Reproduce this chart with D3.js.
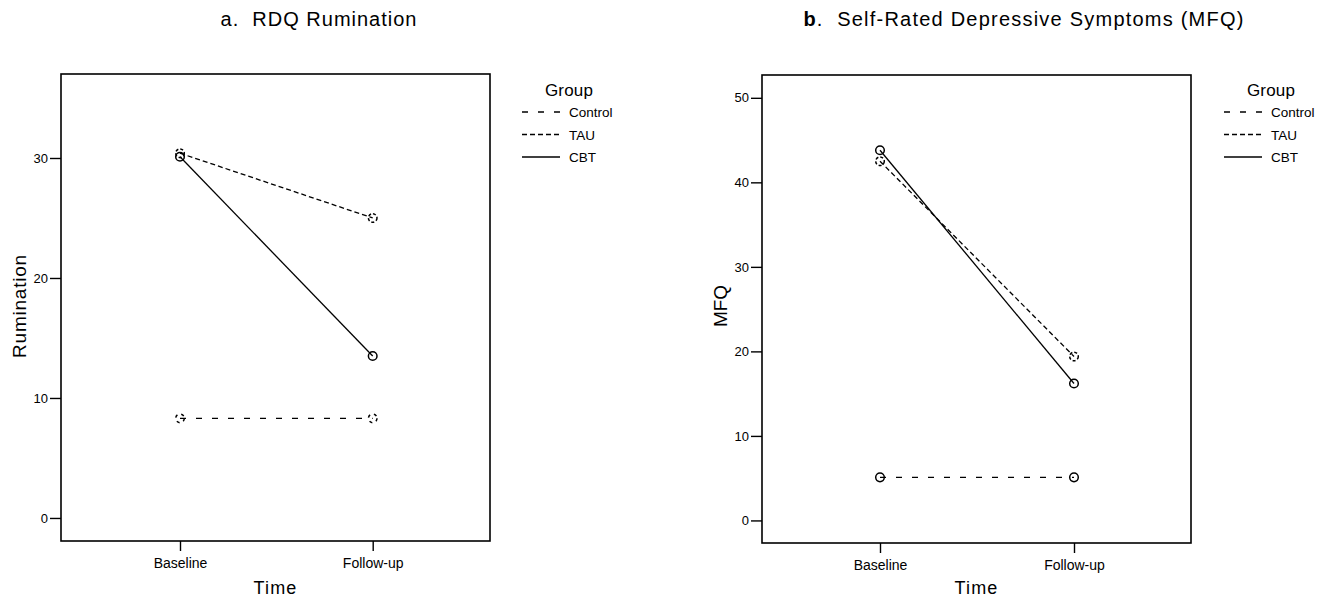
<!DOCTYPE html>
<html>
<head>
<meta charset="utf-8">
<script src="https://cdn.jsdelivr.net/npm/d3@7"></script>
<style>
  body { margin: 0; background: #fff; }
  text { font-family: "Liberation Sans", Arial, Helvetica, sans-serif; fill: #000; }
</style>
</head>
<body>
<div id="chart"></div>
<script>
// data
const times = ["Baseline", "Follow-up"];
const groups = ["Control", "TAU", "CBT"];
const rumination = {
  Control: [8.3, 8.3],
  TAU: [30.4, 25.0],
  CBT: [30.1, 13.5]
};
const mfq = {
  Control: [5.1, 5.1],
  TAU: [42.5, 19.4],
  CBT: [43.8, 16.2]
};
const ruminationTicks = [0, 10, 20, 30];
const mfqTicks = [0, 10, 20, 30, 40, 50];

const width = 1325, height = 598;
const dashes = { Control: "6,10", TAU: "5,3", CBT: null };

const svg = d3.select("#chart").append("svg")
  .attr("width", width)
  .attr("height", height);

// stretch a text to a given width with letter spacing (reference font is wider)
function fitWidth(sel, target) {
  let node = sel.node();
  let len = node.getComputedTextLength();
  let n = node.textContent.length;
  if (n > 1) sel.style("letter-spacing", ((target - len) / (n - 1)) + "px");
}

function panel(opt) {
  let g = svg.append("g");
  let x = d3.scalePoint().domain(times).range([opt.bx, opt.fx]).padding(0);
  let y = d3.scaleLinear().domain(opt.domain).range([opt.bottom, opt.top]);

  // frame
  g.append("rect")
    .attr("x", opt.left).attr("y", opt.top)
    .attr("width", opt.right - opt.left).attr("height", opt.bottom - opt.top)
    .attr("fill", "none").attr("stroke", "#000").attr("stroke-width", 1.6);

  // y axis
  let yAxis = d3.axisLeft(y).tickValues(opt.ticks).tickSize(11).tickPadding(2).tickFormat(d3.format("d"));
  let ya = g.append("g").attr("transform", "translate(" + opt.left + ",0)").call(yAxis);
  ya.select(".domain").remove();
  ya.selectAll("line").attr("stroke-width", 1.4);
  ya.selectAll("text").style("font-size", "13px");

  // x axis
  let xAxis = d3.axisBottom(x).tickSize(10).tickPadding(7);
  let xa = g.append("g").attr("transform", "translate(0," + opt.bottom + ")").call(xAxis);
  xa.select(".domain").remove();
  xa.selectAll("line").attr("stroke-width", 1.4);
  xa.selectAll("text").style("font-size", "14px");

  // axis titles
  let tt = g.append("text")
    .attr("x", (opt.left + opt.right) / 2).attr("y", 594)
    .attr("text-anchor", "middle").style("font-size", "18px").text("Time");
  fitWidth(tt, 43);
  let yt = g.append("text")
    .attr("transform", "translate(" + opt.ytitleX + ",306) rotate(-90)")
    .attr("text-anchor", "middle").style("font-size", "19px").text(opt.ytitle);
  fitWidth(yt, opt.ytitleW);

  // title
  let t = g.append("text")
    .attr("x", opt.titleX).attr("y", 26)
    .attr("text-anchor", "middle").style("font-size", "20px")
    .attr("xml:space", "preserve");
  t.append("tspan").style("font-weight", opt.boldLetter ? "bold" : "normal").text(opt.letter);
  t.append("tspan").text(".  " + opt.title);
  fitWidth(t, opt.titleW);

  // lines and markers
  let line = d3.line().x((d, i) => x(times[i])).y(d => y(d));
  groups.forEach(function (grp) {
    let vals = opt.data[grp];
    g.append("path")
      .attr("d", line(vals))
      .attr("fill", "none").attr("stroke", "#000").attr("stroke-width", 1.3)
      .attr("stroke-dasharray", dashes[grp]);
    g.selectAll(null).data(vals).enter().append("circle")
      .attr("cx", (d, i) => x(times[i])).attr("cy", d => y(d))
      .attr("r", 4.3)
      .attr("fill", "none").attr("stroke", "#000").attr("stroke-width", 1.5)
      .attr("stroke-dasharray", grp === "CBT" ? null : (grp === "Control" ? opt.controlMarkerDash : "3,2"));
  });

  // legend
  let lg = g.append("g").attr("transform", "translate(" + opt.legendX + ",0)");
  let gt = lg.append("text").attr("x", 47).attr("y", 96).attr("text-anchor", "middle")
    .style("font-size", "17px").text("Group");
  fitWidth(gt, 48);
  groups.forEach(function (grp, i) {
    let yy = 112 + i * 22.5;
    lg.append("line").attr("x1", 0).attr("x2", 38).attr("y1", yy).attr("y2", yy)
      .attr("stroke", "#000").attr("stroke-width", 1.3)
      .attr("stroke-dasharray", dashes[grp]);
    lg.append("text").attr("x", 47).attr("y", yy + 5)
      .style("font-size", "13.5px").text(grp);
  });
}

panel({
  left: 61, right: 490, top: 74, bottom: 541,
  bx: 180, fx: 372.7, domain: [-1.92, 37], ticks: ruminationTicks,
  data: rumination, ytitle: "Rumination", ytitleX: 26, ytitleW: 103,
  title: "RDQ Rumination", letter: "a", boldLetter: false, titleX: 319, titleW: 196,
  legendX: 522, controlMarkerDash: "3,4"
});

panel({
  left: 762, right: 1191, top: 75, bottom: 543,
  bx: 880, fx: 1074, domain: [-2.67, 52.7], ticks: mfqTicks,
  data: mfq, ytitle: "MFQ", ytitleX: 727, ytitleW: 42,
  title: "Self-Rated Depressive Symptoms (MFQ)", letter: "b", boldLetter: true, titleX: 1024, titleW: 440,
  legendX: 1224, controlMarkerDash: null
});
</script>
</body>
</html>
